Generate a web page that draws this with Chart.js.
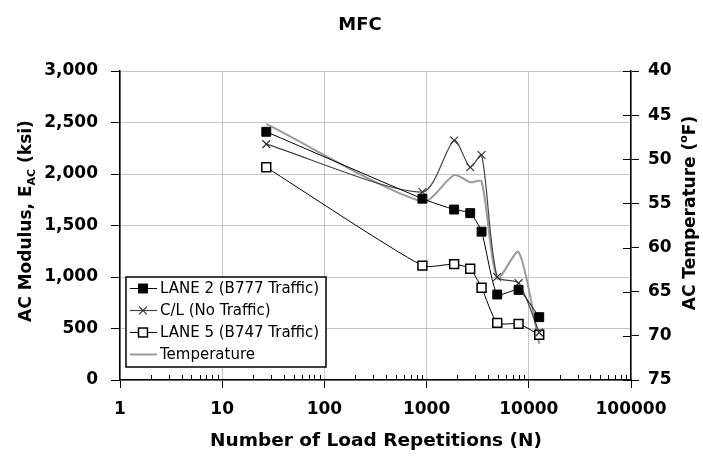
<!DOCTYPE html>
<html lang="en">
<head>
    <meta charset="UTF-8">
    <title>MFC - AC Modulus vs Load Repetitions</title>
    <style>
        html, body { margin: 0; padding: 0; background: #fff; }
        #wrap { width: 703px; height: 463px; }
    </style>
</head>
<body>
    <div id="wrap"><canvas id="chart" width="703" height="463"></canvas></div>

    <script src="https://cdn.jsdelivr.net/npm/chart.js"></script>
    <script>
        // values
        const reps = [27, 910, 1860, 2670, 3450, 4910, 7940, 12650];
        const lane2 = [2410, 1760, 1655, 1620, 1440, 830, 875, 610];
        const centerLine = [2290, 1825, 2325, 2065, 2185, 1000, 940, 460];
        const lane5 = [2065, 1110, 1125, 1080, 895, 555, 545, 440];
        const temperature = [46.0, 54.8, 51.8, 52.6, 52.5, 63.5, 60.5, 70.9];

        const seriesNames = ["LANE 2 (B777 Traffic)", "C/L (No Traffic)", "LANE 5 (B747 Traffic)", "Temperature"];
        const xDecades = [1, 10, 100, 1000, 10000, 100000];
        const minorSteps = [2, 3, 4, 5, 6, 7, 8, 9];
        const tempTicks = [40, 45, 50, 55, 60, 65, 70, 75];

        const FONT = '"DejaVu Sans", sans-serif';
        Chart.defaults.font.family = FONT;
        Chart.defaults.color = "#000";

        const pts = (vals) => reps.map((x, i) => ({ x: x, y: vals[i] }));

        // draw a line of text with sub/superscript pieces, centred on (x, y)
        function drawRich(ctx, parts, x, y, angle) {
            ctx.save();
            ctx.translate(x, y);
            ctx.rotate(angle);
            ctx.textBaseline = "alphabetic";
            ctx.textAlign = "left";
            let total = 0;
            parts.forEach((p) => {
                ctx.font = "bold " + p.size + "px " + FONT;
                p.w = ctx.measureText(p.t).width;
                total += p.w;
            });
            let cx = -total / 2;
            parts.forEach((p) => {
                ctx.font = "bold " + p.size + "px " + FONT;
                ctx.fillText(p.t, cx, 6 + (p.dy || 0));
                cx += p.w;
            });
            ctx.restore();
        }

        function drawMarker(ctx, ds, x, y) {
            ctx.save();
            ctx.lineWidth = ds.pointBorderWidth || 1;
            ctx.strokeStyle = ds.pointBorderColor;
            ctx.fillStyle = ds.pointBackgroundColor || "#fff";
            if (ds.pointStyle === "rect") {
                const s = ds.pointRadius * Math.SQRT1_2;
                ctx.fillRect(x - s, y - s, 2 * s, 2 * s);
                ctx.strokeRect(x - s, y - s, 2 * s, 2 * s);
            } else if (ds.pointStyle === "crossRot") {
                const s = ds.pointRadius * Math.SQRT1_2;
                ctx.beginPath();
                ctx.moveTo(x - s, y - s); ctx.lineTo(x + s, y + s);
                ctx.moveTo(x - s, y + s); ctx.lineTo(x + s, y - s);
                ctx.stroke();
            }
            ctx.restore();
        }

        const decorations = {
            id: "decorations",
            afterDraw(chart) {
                const { ctx, chartArea, scales } = chart;
                ctx.save();
                ctx.strokeStyle = "#000";
                ctx.lineWidth = 1;

                // minor ticks of the log axis, pointing inward
                ctx.beginPath();
                xDecades.slice(0, -1).forEach((d) => {
                    minorSteps.forEach((k) => {
                        const px = Math.round(scales.x.getPixelForValue(d * k)) + 0.5;
                        ctx.moveTo(px, chartArea.bottom);
                        ctx.lineTo(px, chartArea.bottom - 5);
                    });
                });
                // inner half of the right axis ticks
                tempTicks.forEach((v) => {
                    const py = Math.round(scales.y2.getPixelForValue(v)) + 0.5;
                    ctx.moveTo(chartArea.right - 8, py);
                    ctx.lineTo(chartArea.right, py);
                });
                ctx.stroke();

                // title and axis titles
                ctx.fillStyle = "#000";
                drawRich(ctx, [{ t: "MFC", size: 18 }], 360, 24, 0);
                drawRich(ctx, [{ t: "Number of Load Repetitions (N)", size: 18.5 }], 376, 440, 0);
                drawRich(ctx, [
                    { t: "AC Modulus, E", size: 17 },
                    { t: "AC", size: 11, dy: 4 },
                    { t: " (ksi)", size: 17 }
                ], 25, 221, -Math.PI / 2);
                drawRich(ctx, [
                    { t: "AC Temperature (", size: 17 },
                    { t: "o", size: 11, dy: -8 },
                    { t: "F)", size: 17 }
                ], 689, 213, -Math.PI / 2);

                // legend box in the lower left of the plot
                const bx = 126, by = 277, bw = 200, bh = 90;
                ctx.fillStyle = "#fff";
                ctx.fillRect(bx, by, bw, bh);
                ctx.lineWidth = 1.5;
                ctx.strokeStyle = "#000";
                ctx.strokeRect(bx, by, bw, bh);
                ctx.font = "15px " + FONT;
                ctx.textBaseline = "middle";
                ctx.textAlign = "left";
                chart.data.datasets.forEach((ds, i) => {
                    const ly = by + 11.5 + i * 22;
                    ctx.save();
                    ctx.strokeStyle = ds.borderColor;
                    ctx.lineWidth = ds.borderWidth;
                    ctx.beginPath();
                    ctx.moveTo(bx + 4, ly);
                    ctx.lineTo(bx + 31, ly);
                    ctx.stroke();
                    ctx.restore();
                    if (ds.pointRadius > 0) drawMarker(ctx, ds, bx + 17, ly);
                    ctx.fillStyle = "#000";
                    ctx.fillText(ds.label, bx + 34, ly + 1);
                });
                ctx.restore();
            }
        };

        const ctx = document.getElementById("chart").getContext("2d");
        new Chart(ctx, {
            type: "line",
            data: {
                datasets: [
                    {
                        label: seriesNames[0],
                        data: pts(lane2),
                        yAxisID: "y",
                        borderColor: "#000",
                        borderWidth: 1,
                        pointStyle: "rect",
                        pointRadius: 6.3,
                        pointBackgroundColor: "#000",
                        pointBorderColor: "#000",
                        pointBorderWidth: 1,
                        tension: 0.2
                    },
                    {
                        label: seriesNames[1],
                        data: pts(centerLine),
                        yAxisID: "y",
                        borderColor: "#444",
                        borderWidth: 1.2,
                        pointStyle: "crossRot",
                        pointRadius: 5.5,
                        pointBackgroundColor: "#333",
                        pointBorderColor: "#333",
                        pointBorderWidth: 1.2,
                        tension: 0.25
                    },
                    {
                        label: seriesNames[2],
                        data: pts(lane5),
                        yAxisID: "y",
                        borderColor: "#000",
                        borderWidth: 1,
                        pointStyle: "rect",
                        pointRadius: 6.3,
                        pointBackgroundColor: "#fff",
                        pointBorderColor: "#000",
                        pointBorderWidth: 1.5,
                        tension: 0.2
                    },
                    {
                        label: seriesNames[3],
                        data: pts(temperature),
                        yAxisID: "y2",
                        borderColor: "#9a9a9a",
                        borderWidth: 2,
                        pointRadius: 0,
                        tension: 0.25
                    }
                ]
            },
            options: {
                responsive: false,
                animation: false,
                layout: { padding: { top: 71, left: 0, right: 0, bottom: 0 } },
                plugins: {
                    legend: { display: false },
                    title: { display: false },
                    tooltip: { enabled: false }
                },
                scales: {
                    x: {
                        type: "logarithmic",
                        min: 1,
                        max: 100000,
                        afterBuildTicks: (scale) => {
                            scale.ticks = xDecades.map((v) => ({ value: v, major: true }));
                        },
                        afterFit: (scale) => { scale.height = 83; },
                        ticks: {
                            autoSkip: false,
                            maxRotation: 0,
                            padding: 11,
                            font: { size: 17, weight: "bold" },
                            callback: (v) => String(v)
                        },
                        grid: { color: "#c4c4c4", tickColor: "#000", tickLength: 8 },
                        border: { color: "#000", width: 1.5 }
                    },
                    y: {
                        position: "left",
                        min: 0,
                        max: 3000,
                        afterFit: (scale) => { scale.width = 120; },
                        ticks: {
                            stepSize: 500,
                            padding: 13,
                            font: { size: 17, weight: "bold" },
                            callback: (v) => v.toLocaleString("en-US")
                        },
                        grid: { color: "#c4c4c4", tickColor: "#000", tickLength: 9 },
                        border: { color: "#000", width: 1.5 }
                    },
                    y2: {
                        position: "right",
                        min: 40,
                        max: 75,
                        reverse: true,
                        afterFit: (scale) => { scale.width = 72; },
                        ticks: {
                            stepSize: 5,
                            padding: 9,
                            font: { size: 17, weight: "bold" }
                        },
                        grid: { drawOnChartArea: false, tickColor: "#000", tickLength: 8 },
                        border: { color: "#000", width: 1.5 }
                    }
                }
            },
            plugins: [decorations]
        });
    </script>
</body>
</html>
